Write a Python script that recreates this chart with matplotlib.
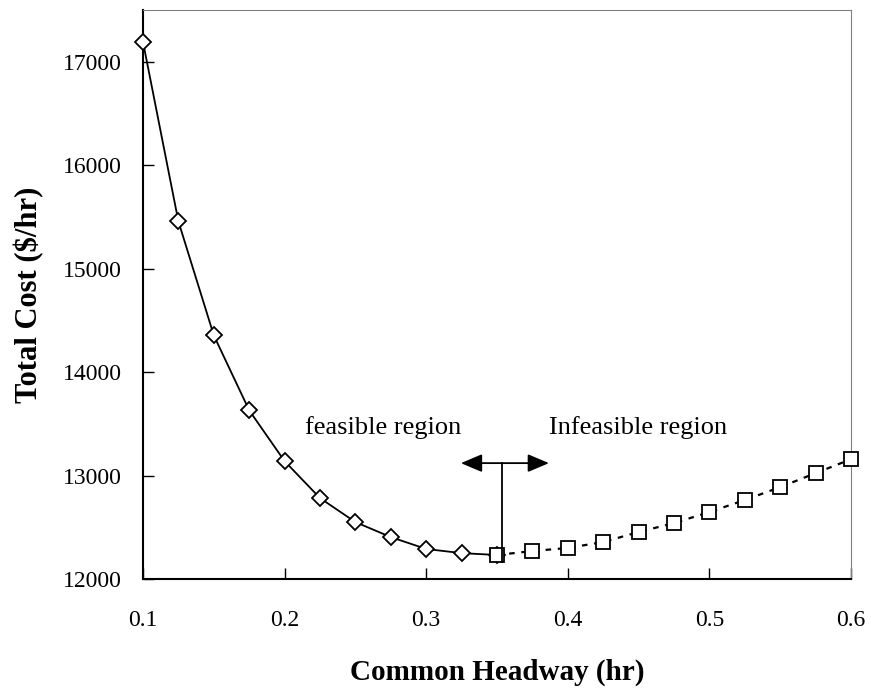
import matplotlib
matplotlib.use('Agg')
import matplotlib.pyplot as plt

# feasible region (diamonds, solid line)
feas_x = [0.1, 0.125, 0.15, 0.175, 0.2, 0.225, 0.25, 0.275, 0.3, 0.325, 0.35]
feas_y = [17190, 15456, 14355, 13630, 13139, 12782, 12550, 12405, 12290, 12250, 12232]

# infeasible region (squares, dotted line)
infeas_x = [0.35, 0.375, 0.4, 0.425, 0.45, 0.475, 0.5, 0.525, 0.55, 0.575, 0.6]
infeas_y = [12232, 12270, 12300, 12357, 12454, 12540, 12647, 12763, 12888, 13023, 13158]

x_ticks = [0.1, 0.2, 0.3, 0.4, 0.5, 0.6]
y_ticks = [12000, 13000, 14000, 15000, 16000, 17000]

plt.rcParams['font.family'] = ['Liberation Serif', 'DejaVu Serif']

fig = plt.figure(figsize=(8.71, 6.91), dpi=100)
ax = fig.add_axes([0.1642, 0.1621, 0.8128, 0.8234])

ax.plot(feas_x, feas_y, color='black', lw=1.3, marker='D', ms=8,
        mfc='white', mec='black', mew=1.3, zorder=3, clip_on=False)
ax.plot(infeas_x, infeas_y, color='black', lw=1.6, ls=(0, (2.5, 3)),
        marker='s', ms=9.5, mfc='white', mec='black', mew=1.3, zorder=4,
        clip_on=False)

# boundary marker with arrows
bx = 0.3535
ax.plot([bx, bx], [12164, 13120], color='black', lw=1.3, zorder=5)
for tip in [0.3245, 0.3867]:
    ax.annotate('', xy=(tip, 13120), xytext=(bx, 13120),
                arrowprops=dict(arrowstyle='-|>,head_length=1.3,head_width=0.55',
                                color='black', lw=1.3, shrinkA=0, shrinkB=0))

ax.text(0.2695, 13460, 'feasible region', ha='center', va='center', fontsize=19)
ax.text(0.4495, 13460, 'Infeasible region', ha='center', va='center', fontsize=19)

ax.set_xlim(0.1, 0.6)
ax.set_ylim(12000, 17500)
ax.set_xticks(x_ticks)
ax.set_xticklabels([str(t) for t in x_ticks])
ax.set_yticks(y_ticks)

ax.tick_params(direction='in', length=8, width=1, labelsize=17, top=False, right=False)
ax.tick_params(axis='x', pad=22)
ax.tick_params(axis='y', pad=15)

ax.spines['left'].set_linewidth(1.5)
ax.spines['bottom'].set_linewidth(1.5)
ax.spines['top'].set_color('#808080')
ax.spines['right'].set_color('#808080')

ax.set_xlabel('Common Headway (hr)', fontsize=21, fontweight='bold', labelpad=20)
ax.set_ylabel('Total Cost ($/hr)', fontsize=22, fontweight='bold', labelpad=14)

fig.savefig('out.png', dpi=100)
